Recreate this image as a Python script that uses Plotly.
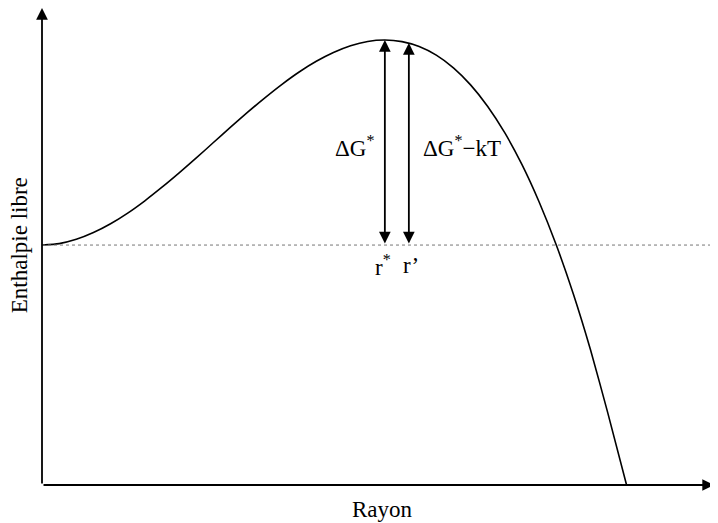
import plotly.graph_objects as go

# rayon (r / r*) et enthalpie libre (G / dG*)
r_vals = [0.0, 0.05, 0.1, 0.15, 0.2, 0.25, 0.3, 0.35, 0.4, 0.45, 0.5,
          0.55, 0.6, 0.65, 0.7, 0.75, 0.8, 0.85, 0.9, 0.95, 1.0,
          1.05, 1.1, 1.15, 1.2, 1.25, 1.3, 1.35, 1.4, 1.45, 1.5,
          1.55, 1.6, 1.65, 1.705]
g_vals = [0.0, 0.007, 0.028, 0.061, 0.104, 0.156, 0.216, 0.282, 0.352, 0.425, 0.500,
          0.575, 0.648, 0.718, 0.784, 0.844, 0.896, 0.939, 0.972, 0.993, 1.000,
          0.992, 0.968, 0.926, 0.864, 0.781, 0.676, 0.547, 0.392, 0.210, 0.000,
          -0.240, -0.512, -0.817, -1.170]

r_star = 1.0      # position du maximum
r_prime = 1.07    # position de r'
g_star = 1.0      # hauteur de la barriere
g_prime = 0.985   # hauteur a r'

x_max = 1.96
y_min, y_max = -1.17, 1.156

font = dict(family='Liberation Serif', size=23, color='black')

fig = go.Figure()

fig.add_trace(go.Scatter(
    x=r_vals, y=g_vals,
    mode='lines',
    line=dict(color='black', width=1.6, shape='spline', smoothing=0.6),
    hoverinfo='skip'
))

# ligne pointillee du niveau initial
fig.add_shape(type='line', xref='paper', yref='y',
              x0=0, x1=1.01, y0=0, y1=0,
              line=dict(color='#777777', width=1, dash='dot'))

annots = []
# axes avec fleches
annots.append(dict(x=x_max, y=y_min, ax=0, ay=y_min, xref='x', yref='y',
                   axref='x', ayref='y', text='', showarrow=True,
                   arrowhead=2, arrowsize=1.3, arrowwidth=1.8, arrowcolor='black', standoff=0))
annots.append(dict(x=0, y=y_max, ax=0, ay=y_min, xref='x', yref='y',
                   axref='x', ayref='y', text='', showarrow=True,
                   arrowhead=2, arrowsize=1.3, arrowwidth=1.8, arrowcolor='black', standoff=0))
# fleches doubles
for rx, gy in [(r_star, g_star), (r_prime, g_prime)]:
    annots.append(dict(x=rx, y=gy, ax=rx, ay=0, xref='x', yref='y',
                       axref='x', ayref='y', text='', showarrow=True,
                       arrowhead=2, startarrowhead=2, arrowside='end+start',
                       arrowsize=1.3, startarrowsize=1.3, arrowwidth=1.8,
                       arrowcolor='black', standoff=0, startstandoff=0))

# textes
annots.append(dict(x=0.975, y=0.48, xref='x', yref='y', text='ΔG<sup>*</sup>',
                   showarrow=False, xanchor='right', yanchor='middle', font=font))
annots.append(dict(x=1.105, y=0.48, xref='x', yref='y', text='ΔG<sup>*</sup>−kT',
                   showarrow=False, xanchor='left', yanchor='middle', font=font))
annots.append(dict(x=0.995, y=-0.1, xref='x', yref='y', text='r<sup>*</sup>',
                   showarrow=False, xanchor='center', yanchor='middle', font=font))
annots.append(dict(x=1.075, y=-0.1, xref='x', yref='y', text='r’',
                   showarrow=False, xanchor='center', yanchor='middle', font=font))
annots.append(dict(x=0.507, y=-0.052, xref='paper', yref='paper', text='Rayon',
                   showarrow=False, xanchor='center', yanchor='middle', font=font))
annots.append(dict(x=-0.034, y=0.503, xref='paper', yref='paper', text='Enthalpie libre',
                   showarrow=False, xanchor='center', yanchor='middle', textangle=-90, font=font))

# la page a une marge de 8 px : la figure est decalee d'autant
fig.update_layout(
    width=718, height=523,
    margin=dict(l=34, r=12, t=0, b=46),
    paper_bgcolor='white', plot_bgcolor='white',
    showlegend=False,
    annotations=annots,
    xaxis=dict(range=[0, x_max], visible=False, fixedrange=True),
    yaxis=dict(range=[y_min, y_max], visible=False, fixedrange=True),
)

fig.write_html("out.html")
